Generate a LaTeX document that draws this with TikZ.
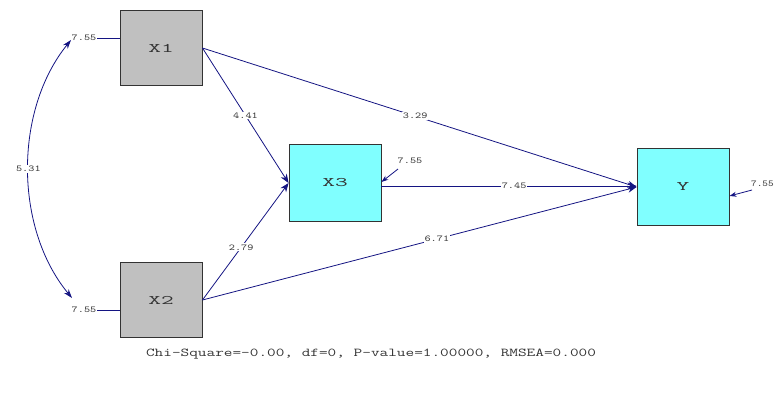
\documentclass[tikz,border=0pt]{standalone}
\usepackage{graphicx}
\usetikzlibrary{arrows.meta}
\definecolor{pathblue}{RGB}{20,20,130}
\definecolor{obsgray}{RGB}{192,192,192}
\definecolor{obscyan}{RGB}{128,255,255}
% horizontally stretched typewriter text
\newcommand{\widett}[2]{\scalebox{#1}[1]{#2}}
\tikzset{
  varbox/.style={draw=black!80, line width=0.9pt, minimum width=#1, inner sep=0pt,
    text=black!80, font=\ttfamily\fontsize{13}{13}\selectfont},
  exo/.style={varbox=82pt, minimum height=75pt, fill=obsgray},
  endo/.style={varbox=92pt, minimum height=77pt, fill=obscyan},
  est/.style={fill=white, inner sep=1pt, text=black!75, font=\ttfamily\fontsize{9}{9}\selectfont},
  path/.style={draw=pathblue, line width=0.8pt, -{Stealth[length=9pt,width=7pt]}},
  errarrow/.style={draw=pathblue, line width=0.8pt, -{Stealth[length=7pt,width=5pt]}},
  plain/.style={draw=pathblue, line width=0.8pt},
}
\begin{document}
\begin{tikzpicture}[x=1pt, y=-1pt]
\useasboundingbox (0,0) rectangle (776,392);

% observed variables
\node[exo]  (x1) at (161,48)  {\widett{1.9}{X1}};
\node[exo]  (x2) at (161,300) {\widett{1.9}{X2}};
\node[endo] (x3) at (335,183) {\widett{1.9}{X3}};
\node[endo] (y)  at (683,187) {\widett{1.9}{Y}};

% structural paths
\path[path] (x1.east) -- node[est, pos=0.49] {\widett{1.3}{3.29}} (y.west);
\path[path] (x1.east) -- node[est, pos=0.5] {\widett{1.3}{4.41}} (x3.west);
\path[path] (x2.east) -- node[est, pos=0.45] {\widett{1.3}{2.79}} (x3.west);
\path[path] (x2.east) -- node[est, pos=0.54] {\widett{1.3}{6.71}} (y.west);
\path[path] ([yshift=-3pt]x3.east) -- node[est, pos=0.52] {\widett{1.3}{7.45}} ([yshift=1pt]y.west);

% variances of the exogenous variables
\node[est] (v1) at (84,38)  {\widett{1.3}{7.55}};
\node[est] (v2) at (84,310) {\widett{1.3}{7.55}};
\draw[plain] (v1.east) -- (x1.west |- v1.east);
\draw[plain] (v2.east) -- (x2.west |- v2.east);

% covariance between X1 and X2
\coordinate (c1) at (71,40);
\coordinate (c2) at (72,298);
\path[plain, {Stealth[length=9pt,width=6pt]}-{Stealth[length=9pt,width=6pt]}]
  (c1) .. controls (14,110) and (14,228) .. node[est, pos=0.5] {\widett{1.3}{5.31}} (c2);

% error variances of the endogenous variables
\node[est] (e3) at (410,161) {\widett{1.3}{7.55}};
\coordinate (e3s) at (398,169);
\draw[errarrow] (e3s) -- ([yshift=1pt]x3.east);
\node[est, anchor=east] (ey) at (775,184) {\widett{1.2}{7.55}};
\coordinate (eys) at (752,190);
\draw[errarrow] (eys) -- ([yshift=-9pt]y.east);

% fit statistics
\node[text=black!80, font=\ttfamily\fontsize{12}{12}\selectfont] (fit) at (371,354)
  {\widett{1.4}{Chi-Square=-0.00, df=0, P-value=1.00000, RMSEA=0.000}};
\end{tikzpicture}
\end{document}
